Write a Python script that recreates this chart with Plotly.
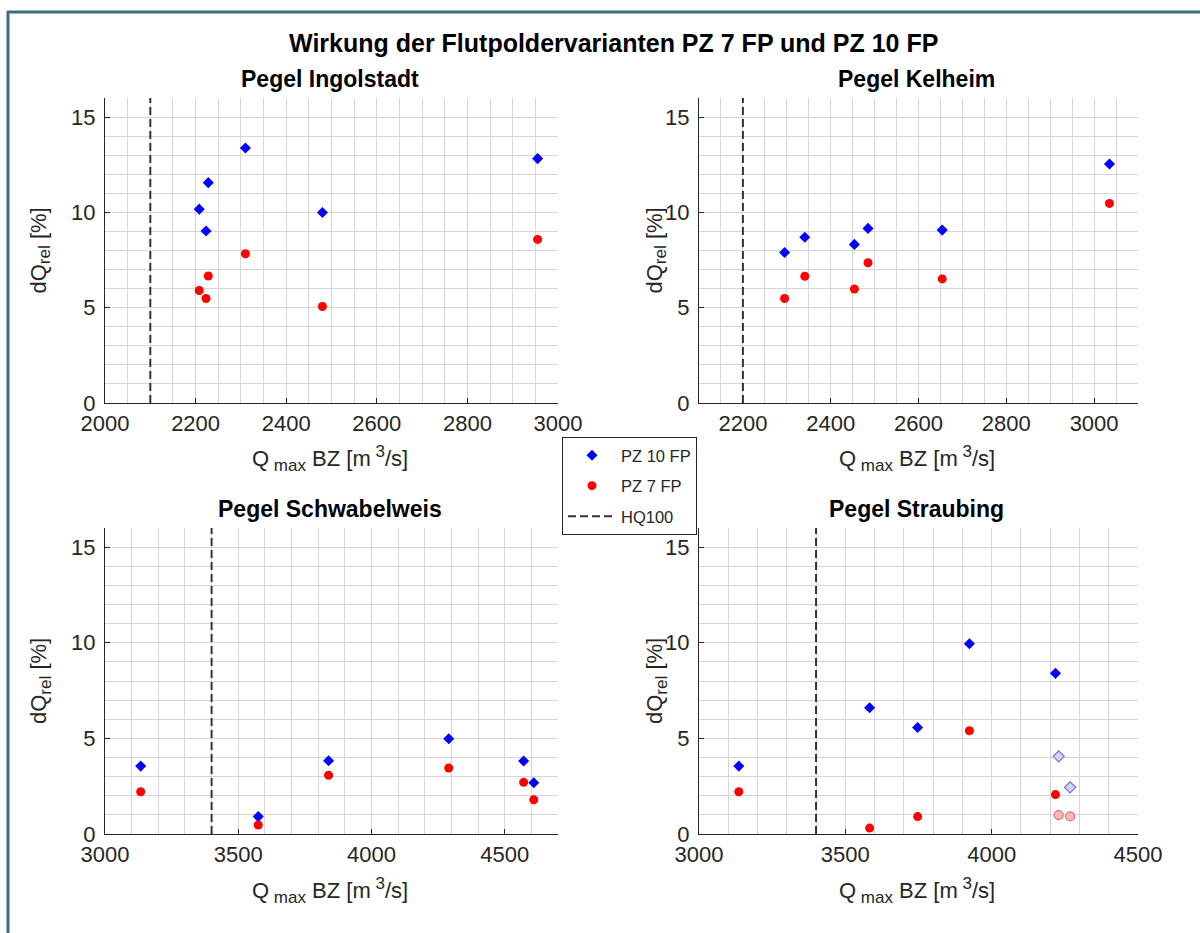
import plotly.graph_objects as go

W, H = 1200, 933

# ---------------- data ----------------
subplot_titles = ["Pegel Ingolstadt", "Pegel Kelheim", "Pegel Schwabelweis", "Pegel Straubing"]
main_title = "Wirkung der Flutpoldervarianten PZ 7 FP und PZ 10 FP"

ing_x = [2208, 2228, 2223, 2310, 2480, 2955]
ing_pz10 = [10.17, 11.56, 9.02, 13.38, 9.99, 12.82]
ing_pz7 = [5.90, 6.66, 5.48, 7.83, 5.06, 8.58]
ing_hq100 = 2100

kel_x = [2295, 2341, 2454, 2485, 2654, 3035]
kel_pz10 = [7.90, 8.70, 8.32, 9.16, 9.07, 12.54]
kel_pz7 = [5.48, 6.65, 5.98, 7.36, 6.51, 10.47]
kel_hq100 = 2200

sch_x = [3134, 3575, 3839, 4290, 4571, 4609]
sch_pz10 = [3.55, 0.91, 3.83, 4.98, 3.82, 2.68]
sch_pz7 = [2.21, 0.47, 3.07, 3.45, 2.70, 1.79]
sch_hq100 = 3400

str_x = [3136, 3583, 3747, 3924, 4218]
str_pz10 = [3.55, 6.60, 5.57, 9.95, 8.40]
str_pz7 = [2.21, 0.31, 0.91, 5.40, 2.06]
str_light_x = [4229, 4268]
str_light_pz10 = [4.06, 2.44]
str_light_pz7 = [0.99, 0.92]
str_hq100 = 3400

y_range = [0, 16]
x_ranges = [[2000, 3000], [2100, 3100], [3000, 4700], [3000, 4500]]
x_dticks = [200, 200, 500, 500]
x_minor = [50, 50, 100, 100]

# ---------------- layout geometry (pixels) ----------------
px_boxes = [  # (left, right, top, bottom)
    (105, 558, 98, 403),
    (699, 1138, 98, 403),
    (105, 558, 528, 834),
    (699, 1138, 528, 834),
]

def px(xp):
    return xp / W

def py(yp):
    return 1 - yp / H

FONT = "Liberation Sans, Arial, sans-serif"
TXT = "#262626"
GRID = "#d6d6d6"
BLUE = "#0000ff"
RED = "#ff0000"
DASH = "#333333"

fig = go.Figure()

datasets = [
    (ing_x, ing_pz10, ing_pz7, ing_hq100),
    (kel_x, kel_pz10, kel_pz7, kel_hq100),
    (sch_x, sch_pz10, sch_pz7, sch_hq100),
    (str_x, str_pz10, str_pz7, str_hq100),
]

for i, (xs, y10, y7, hq) in enumerate(datasets):
    n = "" if i == 0 else str(i + 1)
    xa, ya = "x" + n, "y" + n
    first = i == 0
    fig.add_trace(go.Scatter(
        x=[hq, hq], y=y_range, mode="lines", xaxis=xa, yaxis=ya,
        line=dict(color=DASH, width=2, dash="8px,4px"),
        name="HQ100", legendgroup="hq", showlegend=first, legendrank=3,
        hoverinfo="skip"))
    fig.add_trace(go.Scatter(
        x=xs, y=y10, mode="markers", xaxis=xa, yaxis=ya,
        marker=dict(symbol="diamond", size=8.5, color=BLUE, line=dict(width=0)),
        name="PZ 10 FP", legendgroup="pz10", showlegend=first, legendrank=1))
    fig.add_trace(go.Scatter(
        x=xs, y=y7, mode="markers", xaxis=xa, yaxis=ya,
        marker=dict(symbol="circle", size=9, color=RED, line=dict(width=0)),
        name="PZ 7 FP", legendgroup="pz7", showlegend=first, legendrank=2))
    if i == 3:
        fig.add_trace(go.Scatter(
            x=str_light_x, y=str_light_pz10, mode="markers", xaxis=xa, yaxis=ya,
            marker=dict(symbol="diamond", size=8.5, color="#d4d4f6",
                        line=dict(width=1.2, color="#6e6ee0")),
            showlegend=False))
        fig.add_trace(go.Scatter(
            x=str_light_x, y=str_light_pz7, mode="markers", xaxis=xa, yaxis=ya,
            marker=dict(symbol="circle", size=9, color="#f6b8b8",
                        line=dict(width=1.2, color="#e07070")),
            showlegend=False))

annotations = []
shapes = []
layout_axes = {}
for i, (l, r, t, b) in enumerate(px_boxes):
    n = "" if i == 0 else str(i + 1)
    common = dict(
        showline=True, linecolor=TXT, linewidth=1, mirror=False,
        ticks="inside", ticklen=5, tickwidth=1, tickcolor=TXT,
        showgrid=True, gridcolor=GRID, gridwidth=1, zeroline=False,
        automargin=False,
        tickfont=dict(family=FONT, size=22, color=TXT),
    )
    layout_axes["xaxis" + n] = dict(
        domain=[px(l), px(r)], anchor="y" + n, range=x_ranges[i],
        tick0=0, dtick=x_dticks[i],
        minor=dict(dtick=x_minor[i], tick0=0, showgrid=True, gridcolor=GRID, gridwidth=1, ticks=""),
        ticklabelstandoff=1, **common)
    layout_axes["yaxis" + n] = dict(
        domain=[py(b), py(t)], anchor="x" + n, range=y_range,
        tick0=0, dtick=5,
        minor=dict(dtick=1, tick0=0, showgrid=True, gridcolor=GRID, gridwidth=1, ticks=""),
        ticklabelstandoff=4, **common)
    cx = (l + r) / 2
    annotations.append(dict(
        text="<b>" + subplot_titles[i] + "</b>", x=px(cx - 2), y=py(t - 19),
        xref="paper", yref="paper", showarrow=False, xanchor="center", yanchor="middle",
        font=dict(family=FONT, size=23, color="#000000")))
    annotations.append(dict(
        text="Q<sub><span style='font-size:17px'> max</span></sub> BZ [m<sup><span style='font-size:17px'> 3</span></sup>/s]",
        x=px(cx - 2), y=py(b + 56),
        xref="paper", yref="paper", showarrow=False, xanchor="center", yanchor="middle",
        font=dict(family=FONT, size=22, color=TXT)))
    ylab_x = 40 if i in (0, 2) else 656
    annotations.append(dict(
        text="dQ<sub><span style='font-size:17px'>rel</span></sub> [%]", x=px(ylab_x), y=py((t + b) / 2),
        xref="paper", yref="paper", showarrow=False, xanchor="center", yanchor="middle",
        textangle=-90, font=dict(family=FONT, size=22, color=TXT)))

annotations.append(dict(
    text="<b>" + main_title + "</b>", x=px(613), y=py(43),
    xref="paper", yref="paper", showarrow=False, xanchor="center", yanchor="middle",
    font=dict(family=FONT, size=25, color="#000000")))

# window frame (top and left edges)
shapes.append(dict(type="line", xref="paper", yref="paper",
                   x0=px(7), x1=1.0, y0=py(12), y1=py(12),
                   line=dict(color="#3e6a80", width=3)))
shapes.append(dict(type="line", xref="paper", yref="paper",
                   x0=px(8), x1=px(8), y0=py(11), y1=0.0,
                   line=dict(color="#3e6a80", width=3)))

fig.update_layout(
    width=W, height=H, autosize=False,
    margin=dict(l=0, r=0, t=0, b=0, pad=0, autoexpand=False),
    paper_bgcolor="white", plot_bgcolor="white",
    font=dict(family=FONT, color=TXT),
    showlegend=True,
    legend=dict(
        x=px(562), y=py(437), xanchor="left", yanchor="top",
        bgcolor="white", bordercolor=TXT, borderwidth=1,
        font=dict(family=FONT, size=16.5, color=TXT),
        itemwidth=48,
        tracegroupgap=6, traceorder="grouped",
    ),
    annotations=annotations,
    shapes=shapes,
    **layout_axes,
)

fig.write_html("out.html")
